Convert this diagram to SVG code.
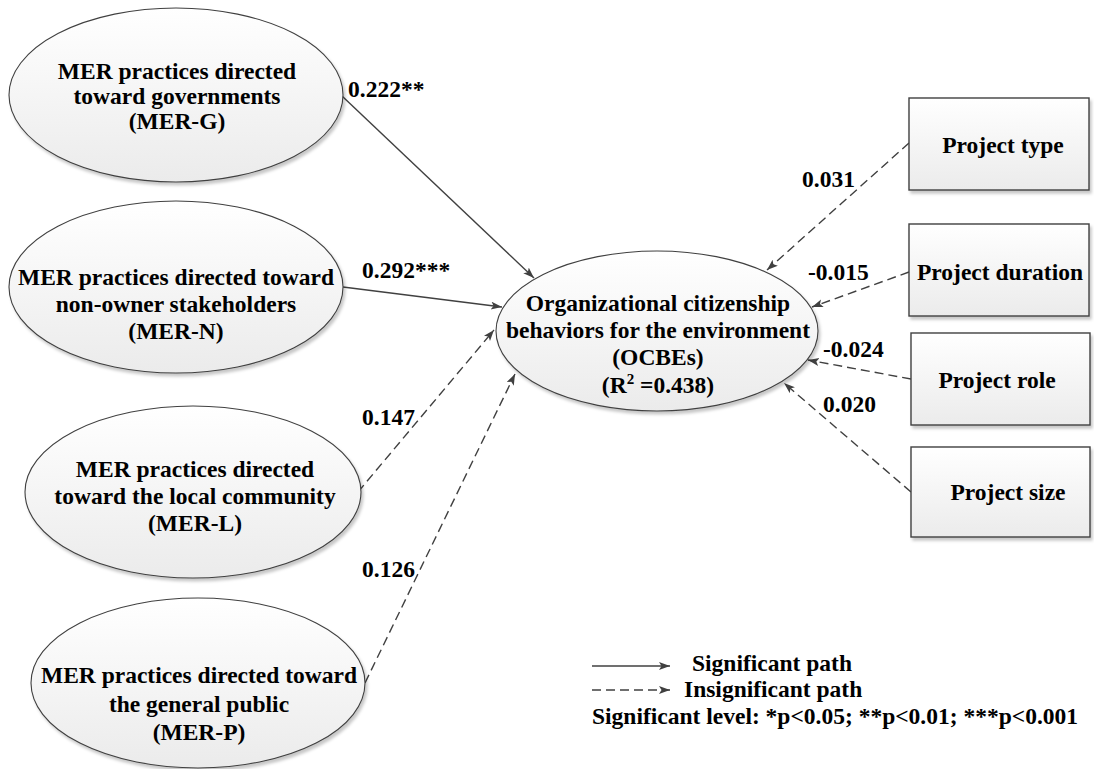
<svg xmlns="http://www.w3.org/2000/svg" width="1094" height="769" viewBox="0 0 1094 769">
<style>
  .t{font-family:"Liberation Serif","Times New Roman",serif;font-weight:bold;font-size:23.5px;fill:#000;text-anchor:middle}
  .l{font-family:"Liberation Serif","Times New Roman",serif;font-weight:bold;font-size:23.5px;fill:#000}
  .node{fill:url(#g);stroke:#404040;stroke-width:1.1;filter:url(#sh)}
  .box{fill:url(#g);stroke:#404040;stroke-width:1.4;filter:url(#sh)}
  .c{stroke:#404040;stroke-width:1.4;fill:none;marker-end:url(#ar)}
  .d{stroke-dasharray:9,5}
</style>
<defs>
  <linearGradient id="g" x1="0" y1="0" x2="0" y2="1">
    <stop offset="0" stop-color="#ffffff"/>
    <stop offset="1" stop-color="#ebebeb"/>
  </linearGradient>
  <filter id="sh" x="-10%" y="-10%" width="125%" height="130%">
    <feDropShadow dx="2" dy="3" stdDeviation="1.5" flood-color="#000" flood-opacity="0.22"/>
  </filter>
  <marker id="ar" markerUnits="userSpaceOnUse" markerWidth="12" markerHeight="9" refX="11" refY="4" orient="auto">
    <path d="M0,0 L11,4 L0,8 L2.5,4 z" fill="#404040"/>
  </marker>
</defs>
<rect width="1094" height="769" fill="#fff"/>

<g id="connectors">
  <line class="c" x1="342" y1="96" x2="534" y2="278"/>
  <line class="c" x1="343" y1="287" x2="502" y2="307"/>
  <line class="c d" x1="358" y1="492" x2="494" y2="330"/>
  <line class="c d" x1="365" y1="683" x2="515" y2="374"/>
  <line class="c d" x1="909" y1="143" x2="767" y2="270"/>
  <line class="c d" x1="909" y1="272" x2="812" y2="307"/>
  <line class="c d" x1="911" y1="379" x2="808" y2="360"/>
  <line class="c d" x1="911" y1="492" x2="784" y2="383"/>
</g>

<g id="labels">
  <text class="l" x="348" y="97">0.222**</text>
  <text class="l" x="362" y="278">0.292***</text>
  <text class="l" x="362" y="425">0.147</text>
  <text class="l" x="362" y="577">0.126</text>
  <text class="l" x="802" y="187">0.031</text>
  <text class="l" x="808" y="280">-0.015</text>
  <text class="l" x="823" y="357">-0.024</text>
  <text class="l" x="823" y="412">0.020</text>
</g>

<g id="MER-G">
  <ellipse class="node" cx="176" cy="95" rx="167" ry="87"/>
  <text class="t" x="177" y="79">MER practices directed</text>
  <text class="t" x="177" y="104">toward governments</text>
  <text class="t" x="177" y="129">(MER-G)</text>
</g>
<g id="MER-N">
  <ellipse class="node" cx="176" cy="287" rx="167" ry="86"/>
  <text class="t" x="176" y="285">MER practices directed toward</text>
  <text class="t" x="176" y="312">non-owner stakeholders</text>
  <text class="t" x="176" y="339">(MER-N)</text>
</g>
<g id="MER-L">
  <ellipse class="node" cx="193" cy="492" rx="168" ry="86"/>
  <text class="t" x="195" y="477">MER practices directed</text>
  <text class="t" x="195" y="504">toward the local community</text>
  <text class="t" x="195" y="531">(MER-L)</text>
</g>
<g id="MER-P">
  <ellipse class="node" cx="198" cy="683" rx="167" ry="85"/>
  <text class="t" x="199" y="683">MER practices directed toward</text>
  <text class="t" x="199" y="712">the general public</text>
  <text class="t" x="199" y="740">(MER-P)</text>
</g>
<g id="OCBEs">
  <ellipse class="node" cx="657" cy="331" rx="161" ry="80"/>
  <text class="t" x="658" y="311">Organizational citizenship</text>
  <text class="t" x="658" y="338">behaviors for the environment</text>
  <text class="t" x="658" y="365">(OCBEs)</text>
  <text class="t" x="658" y="393">(R<tspan font-size="15" dy="-9">2</tspan><tspan dy="9"> =0.438)</tspan></text>
</g>
<g id="project-type">
  <rect class="box" x="909" y="98" width="180" height="92"/>
  <text class="t" x="1003" y="153">Project type</text>
</g>
<g id="project-duration">
  <rect class="box" x="909" y="224" width="180" height="92"/>
  <text class="t" x="1000" y="280">Project duration</text>
</g>
<g id="project-role">
  <rect class="box" x="911" y="333" width="179" height="92"/>
  <text class="t" x="997" y="388">Project role</text>
</g>
<g id="project-size">
  <rect class="box" x="911" y="447" width="179" height="90"/>
  <text class="t" x="1008" y="500">Project size</text>
</g>

<g id="legend">
  <line class="c" x1="592" y1="666" x2="670" y2="666"/>
  <line class="c d" x1="592" y1="690" x2="670" y2="690"/>
  <text class="l" x="692" y="671">Significant path</text>
  <text class="l" x="684" y="697">Insignificant path</text>
  <text class="l" x="592" y="724">Significant level: *p&lt;0.05; **p&lt;0.01; ***p&lt;0.001</text>
</g>
</svg>
